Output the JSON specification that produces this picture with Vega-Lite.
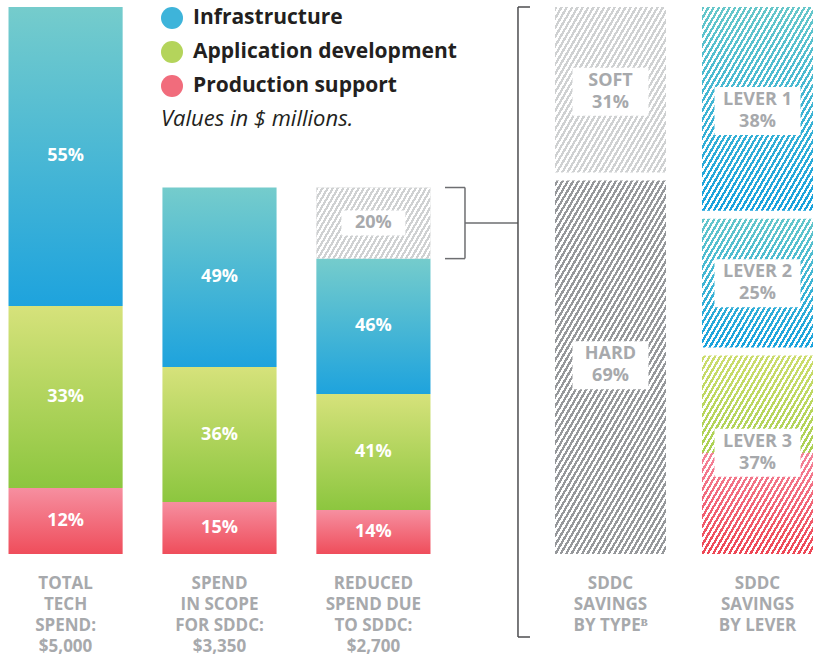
{
"$schema":"https://vega.github.io/schema/vega-lite/v6.json",
"background":"#ffffff",
"padding":{"left":0,"top":6,"right":0,"bottom":0},
"bounds":"flush",
"spacing":116,
"datasets":{
"left":[
{"col":"TOTAL|TECH|SPEND:|$5,000","series":"Production support","ord":1,"value":603,"label":"12%"},
{"col":"TOTAL|TECH|SPEND:|$5,000","series":"Application development","ord":2,"value":1664,"label":"33%"},
{"col":"TOTAL|TECH|SPEND:|$5,000","series":"Infrastructure","ord":3,"value":2733,"label":"55%"},
{"col":"SPEND|IN SCOPE|FOR SDDC:|$3,350","series":"Production support","ord":1,"value":475,"label":"15%"},
{"col":"SPEND|IN SCOPE|FOR SDDC:|$3,350","series":"Application development","ord":2,"value":1234,"label":"36%"},
{"col":"SPEND|IN SCOPE|FOR SDDC:|$3,350","series":"Infrastructure","ord":3,"value":1641,"label":"49%"},
{"col":"REDUCED|SPEND DUE|TO SDDC:|$2,700","series":"Production support","ord":1,"value":402,"label":"14%"},
{"col":"REDUCED|SPEND DUE|TO SDDC:|$2,700","series":"Application development","ord":2,"value":1060,"label":"41%"},
{"col":"REDUCED|SPEND DUE|TO SDDC:|$2,700","series":"Infrastructure","ord":3,"value":1238,"label":"46%"},
{"col":"REDUCED|SPEND DUE|TO SDDC:|$2,700","series":"Savings","ord":4,"value":650,"label":"20%"}
],
"right":[
{"col":"SDDC|SAVINGS|BY TYPEᴮ","seg":"HARD","ord":1,"value":69,"label":"HARD|69%"},
{"col":"SDDC|SAVINGS|BY TYPEᴮ","seg":"SOFT","ord":2,"value":31,"label":"SOFT|31%"},
{"col":"SDDC|SAVINGS|BY LEVER","seg":"LEVER 3","ord":1,"value":37,"production":18.5,"label":"LEVER 3|37%"},
{"col":"SDDC|SAVINGS|BY LEVER","seg":"LEVER 2","ord":2,"value":25,"label":"LEVER 2|25%"},
{"col":"SDDC|SAVINGS|BY LEVER","seg":"LEVER 1","ord":3,"value":38,"label":"LEVER 1|38%"}
]
},
"config":{
"view":{"stroke":null},
"font":"Open Sans",
"axis":{"domain":false,"ticks":false,"grid":false,"labelFont":"Open Sans","labelFontWeight":"bold","labelFontSize":17,"labelColor":"#A7A9AC","labelLineHeight":21,"labelPadding":21,"labelAngle":0,"labelLimit":300}
},
"resolve":{"scale":{"x":"independent","y":"independent"}},
"hconcat":[
{
"width":439,"height":547,
"data":{"name":"left"},
"encoding":{"x":{"field":"col","type":"nominal","sort":null,"title":null,"scale":{"paddingInner":0.2585,"paddingOuter":0.0553},"axis":{"labelExpr":"split(datum.label, '|')"}}},
"layer":[
{"transform":[{"stack":"value","groupby":["col"],"sort":[{"field":"ord"}],"as":["lo","hi"]},{"filter":"datum.series == 'Infrastructure'"}],
"mark":{"type":"bar","stroke":null,"fill":{"gradient":"linear","x1":0,"y1":0,"x2":0,"y2":1,"stops":[{"offset":0,"color":"#75CCCC"},{"offset":1,"color":"#1EA3DD"}]}},
"encoding":{"y":{"field":"hi","type":"quantitative","scale":{"domain":[0,5000],"nice":false},"axis":null},"y2":{"field":"lo"}}},
{"transform":[{"stack":"value","groupby":["col"],"sort":[{"field":"ord"}],"as":["lo","hi"]},{"filter":"datum.series == 'Application development'"}],
"mark":{"type":"bar","stroke":null,"fill":{"gradient":"linear","x1":0,"y1":0,"x2":0,"y2":1,"stops":[{"offset":0,"color":"#D6E27B"},{"offset":1,"color":"#8CC63F"}]}},
"encoding":{"y":{"field":"hi","type":"quantitative","scale":{"domain":[0,5000],"nice":false},"axis":null},"y2":{"field":"lo"}}},
{"transform":[{"stack":"value","groupby":["col"],"sort":[{"field":"ord"}],"as":["lo","hi"]},{"filter":"datum.series == 'Production support'"}],
"mark":{"type":"bar","stroke":null,"fill":{"gradient":"linear","x1":0,"y1":0,"x2":0,"y2":1,"stops":[{"offset":0,"color":"#F68FA0"},{"offset":1,"color":"#EF4D5B"}]}},
"encoding":{"y":{"field":"hi","type":"quantitative","scale":{"domain":[0,5000],"nice":false},"axis":null},"y2":{"field":"lo"}}},
{"transform":[{"stack":"value","groupby":["col"],"sort":[{"field":"ord"}],"as":["lo","hi"]},{"filter":"datum.series == 'Savings'"}],
"mark":{"type":"bar","stroke":null,"fill":"#CFD1D2"},
"encoding":{"y":{"field":"hi","type":"quantitative","scale":{"domain":[0,5000],"nice":false},"axis":null},"y2":{"field":"lo"}}},
{"transform":[{"stack":"value","groupby":["col"],"sort":[{"field":"ord"}],"as":["lo","hi"]},{"filter":"datum.series == 'Savings'"}],
"mark":{"type":"bar","stroke":null,"fill":{"gradient":"linear","x1":0,"y1":0,"x2":1.2041,"y2":0.4336,"stops":[
{"offset":0,"color":"transparent"},
{"offset":0.016667,"color":"transparent"},{"offset":0.016667,"color":"#fff"},
{"offset":0.033333,"color":"#fff"},{"offset":0.033333,"color":"transparent"},
{"offset":0.05,"color":"transparent"},{"offset":0.05,"color":"#fff"},
{"offset":0.066667,"color":"#fff"},{"offset":0.066667,"color":"transparent"},
{"offset":0.083333,"color":"transparent"},{"offset":0.083333,"color":"#fff"},
{"offset":0.1,"color":"#fff"},{"offset":0.1,"color":"transparent"},
{"offset":0.116667,"color":"transparent"},{"offset":0.116667,"color":"#fff"},
{"offset":0.133333,"color":"#fff"},{"offset":0.133333,"color":"transparent"},
{"offset":0.15,"color":"transparent"},{"offset":0.15,"color":"#fff"},
{"offset":0.166667,"color":"#fff"},{"offset":0.166667,"color":"transparent"},
{"offset":0.183333,"color":"transparent"},{"offset":0.183333,"color":"#fff"},
{"offset":0.2,"color":"#fff"},{"offset":0.2,"color":"transparent"},
{"offset":0.216667,"color":"transparent"},{"offset":0.216667,"color":"#fff"},
{"offset":0.233333,"color":"#fff"},{"offset":0.233333,"color":"transparent"},
{"offset":0.25,"color":"transparent"},{"offset":0.25,"color":"#fff"},
{"offset":0.266667,"color":"#fff"},{"offset":0.266667,"color":"transparent"},
{"offset":0.283333,"color":"transparent"},{"offset":0.283333,"color":"#fff"},
{"offset":0.3,"color":"#fff"},{"offset":0.3,"color":"transparent"},
{"offset":0.316667,"color":"transparent"},{"offset":0.316667,"color":"#fff"},
{"offset":0.333333,"color":"#fff"},{"offset":0.333333,"color":"transparent"},
{"offset":0.35,"color":"transparent"},{"offset":0.35,"color":"#fff"},
{"offset":0.366667,"color":"#fff"},{"offset":0.366667,"color":"transparent"},
{"offset":0.383333,"color":"transparent"},{"offset":0.383333,"color":"#fff"},
{"offset":0.4,"color":"#fff"},{"offset":0.4,"color":"transparent"},
{"offset":0.416667,"color":"transparent"},{"offset":0.416667,"color":"#fff"},
{"offset":0.433333,"color":"#fff"},{"offset":0.433333,"color":"transparent"},
{"offset":0.45,"color":"transparent"},{"offset":0.45,"color":"#fff"},
{"offset":0.466667,"color":"#fff"},{"offset":0.466667,"color":"transparent"},
{"offset":0.483333,"color":"transparent"},{"offset":0.483333,"color":"#fff"},
{"offset":0.5,"color":"#fff"},{"offset":0.5,"color":"transparent"},
{"offset":0.516667,"color":"transparent"},{"offset":0.516667,"color":"#fff"},
{"offset":0.533333,"color":"#fff"},{"offset":0.533333,"color":"transparent"},
{"offset":0.55,"color":"transparent"},{"offset":0.55,"color":"#fff"},
{"offset":0.566667,"color":"#fff"},{"offset":0.566667,"color":"transparent"},
{"offset":0.583333,"color":"transparent"},{"offset":0.583333,"color":"#fff"},
{"offset":0.6,"color":"#fff"},{"offset":0.6,"color":"transparent"},
{"offset":0.616667,"color":"transparent"},{"offset":0.616667,"color":"#fff"},
{"offset":0.633333,"color":"#fff"},{"offset":0.633333,"color":"transparent"},
{"offset":0.65,"color":"transparent"},{"offset":0.65,"color":"#fff"},
{"offset":0.666667,"color":"#fff"},{"offset":0.666667,"color":"transparent"},
{"offset":0.683333,"color":"transparent"},{"offset":0.683333,"color":"#fff"},
{"offset":0.7,"color":"#fff"},{"offset":0.7,"color":"transparent"},
{"offset":0.716667,"color":"transparent"},{"offset":0.716667,"color":"#fff"},
{"offset":0.733333,"color":"#fff"},{"offset":0.733333,"color":"transparent"},
{"offset":0.75,"color":"transparent"},{"offset":0.75,"color":"#fff"},
{"offset":0.766667,"color":"#fff"},{"offset":0.766667,"color":"transparent"},
{"offset":0.783333,"color":"transparent"},{"offset":0.783333,"color":"#fff"},
{"offset":0.8,"color":"#fff"},{"offset":0.8,"color":"transparent"},
{"offset":0.816667,"color":"transparent"},{"offset":0.816667,"color":"#fff"},
{"offset":0.833333,"color":"#fff"},{"offset":0.833333,"color":"transparent"},
{"offset":0.85,"color":"transparent"},{"offset":0.85,"color":"#fff"},
{"offset":0.866667,"color":"#fff"},{"offset":0.866667,"color":"transparent"},
{"offset":0.883333,"color":"transparent"},{"offset":0.883333,"color":"#fff"},
{"offset":0.9,"color":"#fff"},{"offset":0.9,"color":"transparent"},
{"offset":0.916667,"color":"transparent"},{"offset":0.916667,"color":"#fff"},
{"offset":0.933333,"color":"#fff"},{"offset":0.933333,"color":"transparent"},
{"offset":0.95,"color":"transparent"},{"offset":0.95,"color":"#fff"},
{"offset":0.966667,"color":"#fff"},{"offset":0.966667,"color":"transparent"},
{"offset":0.983333,"color":"transparent"},{"offset":0.983333,"color":"#fff"},
{"offset":1,"color":"#fff"}
]}},
"encoding":{"y":{"field":"hi","type":"quantitative","scale":{"domain":[0,5000],"nice":false},"axis":null},"y2":{"field":"lo"}}},
{"mark":{"type":"point","filled":true,"fill":"#ffffff","strokeWidth":0,"shape":"M-1,-0.39V0.39H1V-0.39Z","size":4096},
"encoding":{"y":{"field":"value","type":"quantitative","stack":"zero","bandPosition":0.5,"scale":{"domain":[0,5000],"nice":false},"axis":null},"order":{"field":"ord","type":"quantitative"},"detail":{"field":"series"},"opacity":{"condition":{"test":"datum.series == 'Savings'","value":1},"value":0}}},
{"mark":{"type":"text","font":"Open Sans","fontWeight":"bold","fontSize":18,"baseline":"middle","align":"center"},
"encoding":{"y":{"field":"value","type":"quantitative","stack":"zero","bandPosition":0.5,"scale":{"domain":[0,5000],"nice":false},"axis":null},"order":{"field":"ord","type":"quantitative"},"detail":{"field":"series"},"text":{"field":"label"},"color":{"condition":{"test":"datum.series == 'Savings'","value":"#A7A9AC"},"value":"#ffffff"}}},
{"transform":[{"stack":"value","groupby":["col"],"sort":[{"field":"ord"}],"as":["lo","hi"]},{"filter":"datum.series == 'Savings'"}],
"layer":[
{"mark":{"type":"rule","stroke":"#6D6E71","strokeWidth":1.5,"xOffset":34.5},
"encoding":{"x":{"field":"col","type":"nominal","sort":null,"bandPosition":1,"title":null,"axis":{"labelExpr":"split(datum.label, '|')"}},"y":{"field":"hi","type":"quantitative","scale":{"domain":[0,5000],"nice":false},"axis":null},"y2":{"field":"lo"}}},
{"mark":{"type":"rule","stroke":"#6D6E71","strokeWidth":1.5,"xOffset":14.5,"x2Offset":34.5},
"encoding":{"x":{"field":"col","type":"nominal","sort":null,"bandPosition":1,"title":null,"axis":{"labelExpr":"split(datum.label, '|')"}},"x2":{"field":"col","bandPosition":1},"y":{"field":"hi","type":"quantitative","scale":{"domain":[0,5000],"nice":false},"axis":null}}},
{"mark":{"type":"rule","stroke":"#6D6E71","strokeWidth":1.5,"xOffset":14.5,"x2Offset":34.5},
"encoding":{"x":{"field":"col","type":"nominal","sort":null,"bandPosition":1,"title":null,"axis":{"labelExpr":"split(datum.label, '|')"}},"x2":{"field":"col","bandPosition":1},"y":{"field":"lo","type":"quantitative","scale":{"domain":[0,5000],"nice":false},"axis":null}}},
{"mark":{"type":"rule","stroke":"#6D6E71","strokeWidth":1.5,"xOffset":34.5,"x2Offset":87.5,"yOffset":35.5},
"encoding":{"x":{"field":"col","type":"nominal","sort":null,"bandPosition":1,"title":null,"axis":{"labelExpr":"split(datum.label, '|')"}},"x2":{"field":"col","bandPosition":1},"y":{"field":"hi","type":"quantitative","scale":{"domain":[0,5000],"nice":false},"axis":null}}},
{"mark":{"type":"rule","stroke":"#4D4D4F","strokeWidth":1.5,"xOffset":87.5,"y2Offset":83},
"encoding":{"x":{"field":"col","type":"nominal","sort":null,"bandPosition":1,"title":null,"axis":{"labelExpr":"split(datum.label, '|')"}},"y":{"datum":5000,"type":"quantitative","scale":{"domain":[0,5000],"nice":false},"axis":null},"y2":{"datum":0}}},
{"mark":{"type":"rule","stroke":"#4D4D4F","strokeWidth":1.5,"xOffset":87.5,"x2Offset":99.5},
"encoding":{"x":{"field":"col","type":"nominal","sort":null,"bandPosition":1,"title":null,"axis":{"labelExpr":"split(datum.label, '|')"}},"x2":{"field":"col","bandPosition":1},"y":{"datum":5000,"type":"quantitative","scale":{"domain":[0,5000],"nice":false},"axis":null}}},
{"mark":{"type":"rule","stroke":"#4D4D4F","strokeWidth":1.5,"xOffset":87.5,"x2Offset":99.5,"yOffset":83},
"encoding":{"x":{"field":"col","type":"nominal","sort":null,"bandPosition":1,"title":null,"axis":{"labelExpr":"split(datum.label, '|')"}},"x2":{"field":"col","bandPosition":1},"y":{"datum":0,"type":"quantitative","scale":{"domain":[0,5000],"nice":false},"axis":null}}}
]},
{"transform":[{"filter":"datum.series != 'Savings'"}],
"mark":{"type":"point","filled":true,"opacity":0},
"encoding":{"y":{"field":"value","type":"quantitative","scale":{"domain":[0,5000],"nice":false},"axis":null},
"color":{"field":"series","type":"nominal","scale":{"domain":["Infrastructure","Application development","Production support"],"range":["#3EB4DA","#B4D45B","#F16C7C"]},
"legend":{"orient":"none","legendX":161,"legendY":0,"title":"Values in $ millions.","titleOrient":"bottom","titleAnchor":"start","titleFont":"Open Sans","titleFontSize":22,"titleFontStyle":"italic","titleFontWeight":"normal","titleColor":"#231F20","titlePadding":12,"titleLimit":500,"labelFont":"Open Sans","labelFontSize":21,"labelFontWeight":"bold","labelColor":"#231F20","labelOffset":10,"labelLimit":500,"symbolType":"circle","symbolSize":484,"symbolOpacity":1,"symbolStrokeWidth":0,"rowPadding":12,
"encode":{"symbols":{"update":{"fill":[
{"test":"datum.value === 'Infrastructure'","value":{"gradient":"linear","x1":0,"y1":0,"x2":0,"y2":1,"stops":[{"offset":0,"color":"#75CCCC"},{"offset":1,"color":"#1EA3DD"}]}},
{"test":"datum.value === 'Application development'","value":{"gradient":"linear","x1":0,"y1":0,"x2":0,"y2":1,"stops":[{"offset":0,"color":"#D6E27B"},{"offset":1,"color":"#8CC63F"}]}},
{"value":{"gradient":"linear","x1":0,"y1":0,"x2":0,"y2":1,"stops":[{"offset":0,"color":"#F68FA0"},{"offset":1,"color":"#EF4D5B"}]}}
]}}}}}}}
]
},
{
"width":258,"height":547,
"data":{"name":"right"},
"encoding":{"x":{"field":"col","type":"nominal","sort":null,"title":null,"scale":{"paddingInner":0.2449,"paddingOuter":0},"axis":{"labelExpr":"split(datum.label, '|')"}}},
"layer":[
{"transform":[{"stack":"value","groupby":["col"],"sort":[{"field":"ord"}],"as":["lo","hi"]},{"filter":"datum.seg == 'SOFT'"}],
"mark":{"type":"bar","stroke":null,"fill":"#CFD1D2"},
"encoding":{"y":{"field":"hi","type":"quantitative","scale":{"domain":[0,100],"nice":false},"axis":null},"y2":{"field":"lo"}}},
{"transform":[{"stack":"value","groupby":["col"],"sort":[{"field":"ord"}],"as":["lo","hi"]},{"filter":"datum.seg == 'HARD'"}],
"mark":{"type":"bar","stroke":null,"fill":"#96989B"},
"encoding":{"y":{"field":"hi","type":"quantitative","scale":{"domain":[0,100],"nice":false},"axis":null},"y2":{"field":"lo"}}},
{"transform":[{"stack":"value","groupby":["col"],"sort":[{"field":"ord"}],"as":["lo","hi"]},{"filter":"datum.seg == 'LEVER 1' || datum.seg == 'LEVER 2'"}],
"mark":{"type":"bar","stroke":null,"fill":{"gradient":"linear","x1":0,"y1":0,"x2":0,"y2":1,"stops":[{"offset":0,"color":"#66C7CA"},{"offset":1,"color":"#16A1DD"}]}},
"encoding":{"y":{"field":"hi","type":"quantitative","scale":{"domain":[0,100],"nice":false},"axis":null},"y2":{"field":"lo"}}},
{"transform":[{"stack":"value","groupby":["col"],"sort":[{"field":"ord"}],"as":["lo","hi"]},{"filter":"datum.seg == 'LEVER 3'"}],
"mark":{"type":"bar","stroke":null,"fill":{"gradient":"linear","x1":0,"y1":0,"x2":0,"y2":1,"stops":[{"offset":0,"color":"#CDDD6E"},{"offset":1,"color":"#86C336"}]}},
"encoding":{"y":{"field":"hi","type":"quantitative","scale":{"domain":[0,100],"nice":false},"axis":null},"y2":{"field":"lo"}}},
{"transform":[{"filter":"datum.seg == 'LEVER 3'"}],
"mark":{"type":"bar","stroke":null,"fill":{"gradient":"linear","x1":0,"y1":0,"x2":0,"y2":1,"stops":[{"offset":0,"color":"#F4859A"},{"offset":1,"color":"#EE4654"}]}},
"encoding":{"y":{"field":"production","type":"quantitative","scale":{"domain":[0,100],"nice":false},"axis":null}}},
{"mark":{"type":"bar","stroke":null,"fill":{"gradient":"linear","x1":0,"y1":0,"x2":0.4228,"y2":1.2029,"stops":[
{"offset":0,"color":"transparent"},
{"offset":0.00625,"color":"transparent"},{"offset":0.00625,"color":"#fff"},
{"offset":0.0125,"color":"#fff"},{"offset":0.0125,"color":"transparent"},
{"offset":0.01875,"color":"transparent"},{"offset":0.01875,"color":"#fff"},
{"offset":0.025,"color":"#fff"},{"offset":0.025,"color":"transparent"},
{"offset":0.03125,"color":"transparent"},{"offset":0.03125,"color":"#fff"},
{"offset":0.0375,"color":"#fff"},{"offset":0.0375,"color":"transparent"},
{"offset":0.04375,"color":"transparent"},{"offset":0.04375,"color":"#fff"},
{"offset":0.05,"color":"#fff"},{"offset":0.05,"color":"transparent"},
{"offset":0.05625,"color":"transparent"},{"offset":0.05625,"color":"#fff"},
{"offset":0.0625,"color":"#fff"},{"offset":0.0625,"color":"transparent"},
{"offset":0.06875,"color":"transparent"},{"offset":0.06875,"color":"#fff"},
{"offset":0.075,"color":"#fff"},{"offset":0.075,"color":"transparent"},
{"offset":0.08125,"color":"transparent"},{"offset":0.08125,"color":"#fff"},
{"offset":0.0875,"color":"#fff"},{"offset":0.0875,"color":"transparent"},
{"offset":0.09375,"color":"transparent"},{"offset":0.09375,"color":"#fff"},
{"offset":0.1,"color":"#fff"},{"offset":0.1,"color":"transparent"},
{"offset":0.10625,"color":"transparent"},{"offset":0.10625,"color":"#fff"},
{"offset":0.1125,"color":"#fff"},{"offset":0.1125,"color":"transparent"},
{"offset":0.11875,"color":"transparent"},{"offset":0.11875,"color":"#fff"},
{"offset":0.125,"color":"#fff"},{"offset":0.125,"color":"transparent"},
{"offset":0.13125,"color":"transparent"},{"offset":0.13125,"color":"#fff"},
{"offset":0.1375,"color":"#fff"},{"offset":0.1375,"color":"transparent"},
{"offset":0.14375,"color":"transparent"},{"offset":0.14375,"color":"#fff"},
{"offset":0.15,"color":"#fff"},{"offset":0.15,"color":"transparent"},
{"offset":0.15625,"color":"transparent"},{"offset":0.15625,"color":"#fff"},
{"offset":0.1625,"color":"#fff"},{"offset":0.1625,"color":"transparent"},
{"offset":0.16875,"color":"transparent"},{"offset":0.16875,"color":"#fff"},
{"offset":0.175,"color":"#fff"},{"offset":0.175,"color":"transparent"},
{"offset":0.18125,"color":"transparent"},{"offset":0.18125,"color":"#fff"},
{"offset":0.1875,"color":"#fff"},{"offset":0.1875,"color":"transparent"},
{"offset":0.19375,"color":"transparent"},{"offset":0.19375,"color":"#fff"},
{"offset":0.2,"color":"#fff"},{"offset":0.2,"color":"transparent"},
{"offset":0.20625,"color":"transparent"},{"offset":0.20625,"color":"#fff"},
{"offset":0.2125,"color":"#fff"},{"offset":0.2125,"color":"transparent"},
{"offset":0.21875,"color":"transparent"},{"offset":0.21875,"color":"#fff"},
{"offset":0.225,"color":"#fff"},{"offset":0.225,"color":"transparent"},
{"offset":0.23125,"color":"transparent"},{"offset":0.23125,"color":"#fff"},
{"offset":0.2375,"color":"#fff"},{"offset":0.2375,"color":"transparent"},
{"offset":0.24375,"color":"transparent"},{"offset":0.24375,"color":"#fff"},
{"offset":0.25,"color":"#fff"},{"offset":0.25,"color":"transparent"},
{"offset":0.25625,"color":"transparent"},{"offset":0.25625,"color":"#fff"},
{"offset":0.2625,"color":"#fff"},{"offset":0.2625,"color":"transparent"},
{"offset":0.26875,"color":"transparent"},{"offset":0.26875,"color":"#fff"},
{"offset":0.275,"color":"#fff"},{"offset":0.275,"color":"transparent"},
{"offset":0.28125,"color":"transparent"},{"offset":0.28125,"color":"#fff"},
{"offset":0.2875,"color":"#fff"},{"offset":0.2875,"color":"transparent"},
{"offset":0.29375,"color":"transparent"},{"offset":0.29375,"color":"#fff"},
{"offset":0.3,"color":"#fff"},{"offset":0.3,"color":"transparent"},
{"offset":0.30625,"color":"transparent"},{"offset":0.30625,"color":"#fff"},
{"offset":0.3125,"color":"#fff"},{"offset":0.3125,"color":"transparent"},
{"offset":0.31875,"color":"transparent"},{"offset":0.31875,"color":"#fff"},
{"offset":0.325,"color":"#fff"},{"offset":0.325,"color":"transparent"},
{"offset":0.33125,"color":"transparent"},{"offset":0.33125,"color":"#fff"},
{"offset":0.3375,"color":"#fff"},{"offset":0.3375,"color":"transparent"},
{"offset":0.34375,"color":"transparent"},{"offset":0.34375,"color":"#fff"},
{"offset":0.35,"color":"#fff"},{"offset":0.35,"color":"transparent"},
{"offset":0.35625,"color":"transparent"},{"offset":0.35625,"color":"#fff"},
{"offset":0.3625,"color":"#fff"},{"offset":0.3625,"color":"transparent"},
{"offset":0.36875,"color":"transparent"},{"offset":0.36875,"color":"#fff"},
{"offset":0.375,"color":"#fff"},{"offset":0.375,"color":"transparent"},
{"offset":0.38125,"color":"transparent"},{"offset":0.38125,"color":"#fff"},
{"offset":0.3875,"color":"#fff"},{"offset":0.3875,"color":"transparent"},
{"offset":0.39375,"color":"transparent"},{"offset":0.39375,"color":"#fff"},
{"offset":0.4,"color":"#fff"},{"offset":0.4,"color":"transparent"},
{"offset":0.40625,"color":"transparent"},{"offset":0.40625,"color":"#fff"},
{"offset":0.4125,"color":"#fff"},{"offset":0.4125,"color":"transparent"},
{"offset":0.41875,"color":"transparent"},{"offset":0.41875,"color":"#fff"},
{"offset":0.425,"color":"#fff"},{"offset":0.425,"color":"transparent"},
{"offset":0.43125,"color":"transparent"},{"offset":0.43125,"color":"#fff"},
{"offset":0.4375,"color":"#fff"},{"offset":0.4375,"color":"transparent"},
{"offset":0.44375,"color":"transparent"},{"offset":0.44375,"color":"#fff"},
{"offset":0.45,"color":"#fff"},{"offset":0.45,"color":"transparent"},
{"offset":0.45625,"color":"transparent"},{"offset":0.45625,"color":"#fff"},
{"offset":0.4625,"color":"#fff"},{"offset":0.4625,"color":"transparent"},
{"offset":0.46875,"color":"transparent"},{"offset":0.46875,"color":"#fff"},
{"offset":0.475,"color":"#fff"},{"offset":0.475,"color":"transparent"},
{"offset":0.48125,"color":"transparent"},{"offset":0.48125,"color":"#fff"},
{"offset":0.4875,"color":"#fff"},{"offset":0.4875,"color":"transparent"},
{"offset":0.49375,"color":"transparent"},{"offset":0.49375,"color":"#fff"},
{"offset":0.5,"color":"#fff"},{"offset":0.5,"color":"transparent"},
{"offset":0.50625,"color":"transparent"},{"offset":0.50625,"color":"#fff"},
{"offset":0.5125,"color":"#fff"},{"offset":0.5125,"color":"transparent"},
{"offset":0.51875,"color":"transparent"},{"offset":0.51875,"color":"#fff"},
{"offset":0.525,"color":"#fff"},{"offset":0.525,"color":"transparent"},
{"offset":0.53125,"color":"transparent"},{"offset":0.53125,"color":"#fff"},
{"offset":0.5375,"color":"#fff"},{"offset":0.5375,"color":"transparent"},
{"offset":0.54375,"color":"transparent"},{"offset":0.54375,"color":"#fff"},
{"offset":0.55,"color":"#fff"},{"offset":0.55,"color":"transparent"},
{"offset":0.55625,"color":"transparent"},{"offset":0.55625,"color":"#fff"},
{"offset":0.5625,"color":"#fff"},{"offset":0.5625,"color":"transparent"},
{"offset":0.56875,"color":"transparent"},{"offset":0.56875,"color":"#fff"},
{"offset":0.575,"color":"#fff"},{"offset":0.575,"color":"transparent"},
{"offset":0.58125,"color":"transparent"},{"offset":0.58125,"color":"#fff"},
{"offset":0.5875,"color":"#fff"},{"offset":0.5875,"color":"transparent"},
{"offset":0.59375,"color":"transparent"},{"offset":0.59375,"color":"#fff"},
{"offset":0.6,"color":"#fff"},{"offset":0.6,"color":"transparent"},
{"offset":0.60625,"color":"transparent"},{"offset":0.60625,"color":"#fff"},
{"offset":0.6125,"color":"#fff"},{"offset":0.6125,"color":"transparent"},
{"offset":0.61875,"color":"transparent"},{"offset":0.61875,"color":"#fff"},
{"offset":0.625,"color":"#fff"},{"offset":0.625,"color":"transparent"},
{"offset":0.63125,"color":"transparent"},{"offset":0.63125,"color":"#fff"},
{"offset":0.6375,"color":"#fff"},{"offset":0.6375,"color":"transparent"},
{"offset":0.64375,"color":"transparent"},{"offset":0.64375,"color":"#fff"},
{"offset":0.65,"color":"#fff"},{"offset":0.65,"color":"transparent"},
{"offset":0.65625,"color":"transparent"},{"offset":0.65625,"color":"#fff"},
{"offset":0.6625,"color":"#fff"},{"offset":0.6625,"color":"transparent"},
{"offset":0.66875,"color":"transparent"},{"offset":0.66875,"color":"#fff"},
{"offset":0.675,"color":"#fff"},{"offset":0.675,"color":"transparent"},
{"offset":0.68125,"color":"transparent"},{"offset":0.68125,"color":"#fff"},
{"offset":0.6875,"color":"#fff"},{"offset":0.6875,"color":"transparent"},
{"offset":0.69375,"color":"transparent"},{"offset":0.69375,"color":"#fff"},
{"offset":0.7,"color":"#fff"},{"offset":0.7,"color":"transparent"},
{"offset":0.70625,"color":"transparent"},{"offset":0.70625,"color":"#fff"},
{"offset":0.7125,"color":"#fff"},{"offset":0.7125,"color":"transparent"},
{"offset":0.71875,"color":"transparent"},{"offset":0.71875,"color":"#fff"},
{"offset":0.725,"color":"#fff"},{"offset":0.725,"color":"transparent"},
{"offset":0.73125,"color":"transparent"},{"offset":0.73125,"color":"#fff"},
{"offset":0.7375,"color":"#fff"},{"offset":0.7375,"color":"transparent"},
{"offset":0.74375,"color":"transparent"},{"offset":0.74375,"color":"#fff"},
{"offset":0.75,"color":"#fff"},{"offset":0.75,"color":"transparent"},
{"offset":0.75625,"color":"transparent"},{"offset":0.75625,"color":"#fff"},
{"offset":0.7625,"color":"#fff"},{"offset":0.7625,"color":"transparent"},
{"offset":0.76875,"color":"transparent"},{"offset":0.76875,"color":"#fff"},
{"offset":0.775,"color":"#fff"},{"offset":0.775,"color":"transparent"},
{"offset":0.78125,"color":"transparent"},{"offset":0.78125,"color":"#fff"},
{"offset":0.7875,"color":"#fff"},{"offset":0.7875,"color":"transparent"},
{"offset":0.79375,"color":"transparent"},{"offset":0.79375,"color":"#fff"},
{"offset":0.8,"color":"#fff"},{"offset":0.8,"color":"transparent"},
{"offset":0.80625,"color":"transparent"},{"offset":0.80625,"color":"#fff"},
{"offset":0.8125,"color":"#fff"},{"offset":0.8125,"color":"transparent"},
{"offset":0.81875,"color":"transparent"},{"offset":0.81875,"color":"#fff"},
{"offset":0.825,"color":"#fff"},{"offset":0.825,"color":"transparent"},
{"offset":0.83125,"color":"transparent"},{"offset":0.83125,"color":"#fff"},
{"offset":0.8375,"color":"#fff"},{"offset":0.8375,"color":"transparent"},
{"offset":0.84375,"color":"transparent"},{"offset":0.84375,"color":"#fff"},
{"offset":0.85,"color":"#fff"},{"offset":0.85,"color":"transparent"},
{"offset":0.85625,"color":"transparent"},{"offset":0.85625,"color":"#fff"},
{"offset":0.8625,"color":"#fff"},{"offset":0.8625,"color":"transparent"},
{"offset":0.86875,"color":"transparent"},{"offset":0.86875,"color":"#fff"},
{"offset":0.875,"color":"#fff"},{"offset":0.875,"color":"transparent"},
{"offset":0.88125,"color":"transparent"},{"offset":0.88125,"color":"#fff"},
{"offset":0.8875,"color":"#fff"},{"offset":0.8875,"color":"transparent"},
{"offset":0.89375,"color":"transparent"},{"offset":0.89375,"color":"#fff"},
{"offset":0.9,"color":"#fff"},{"offset":0.9,"color":"transparent"},
{"offset":0.90625,"color":"transparent"},{"offset":0.90625,"color":"#fff"},
{"offset":0.9125,"color":"#fff"},{"offset":0.9125,"color":"transparent"},
{"offset":0.91875,"color":"transparent"},{"offset":0.91875,"color":"#fff"},
{"offset":0.925,"color":"#fff"},{"offset":0.925,"color":"transparent"},
{"offset":0.93125,"color":"transparent"},{"offset":0.93125,"color":"#fff"},
{"offset":0.9375,"color":"#fff"},{"offset":0.9375,"color":"transparent"},
{"offset":0.94375,"color":"transparent"},{"offset":0.94375,"color":"#fff"},
{"offset":0.95,"color":"#fff"},{"offset":0.95,"color":"transparent"},
{"offset":0.95625,"color":"transparent"},{"offset":0.95625,"color":"#fff"},
{"offset":0.9625,"color":"#fff"},{"offset":0.9625,"color":"transparent"},
{"offset":0.96875,"color":"transparent"},{"offset":0.96875,"color":"#fff"},
{"offset":0.975,"color":"#fff"},{"offset":0.975,"color":"transparent"},
{"offset":0.98125,"color":"transparent"},{"offset":0.98125,"color":"#fff"},
{"offset":0.9875,"color":"#fff"},{"offset":0.9875,"color":"transparent"},
{"offset":0.99375,"color":"transparent"},{"offset":0.99375,"color":"#fff"},
{"offset":1,"color":"#fff"}
]}},
"encoding":{"y":{"aggregate":"sum","field":"value","type":"quantitative","scale":{"domain":[0,100],"nice":false},"axis":null}}},
{"transform":[{"stack":"value","groupby":["col"],"sort":[{"field":"ord"}],"as":["lo","hi"]},{"filter":"datum.lo > 0"}],
"mark":{"type":"bar","stroke":null,"fill":"#ffffff","yOffset":-4,"y2Offset":4},
"encoding":{"y":{"field":"lo","type":"quantitative","scale":{"domain":[0,100],"nice":false},"axis":null},"y2":{"field":"lo"}}},
{"mark":{"type":"point","filled":true,"fill":"#ffffff","strokeWidth":0,"opacity":1},
"encoding":{"y":{"field":"value","type":"quantitative","stack":"zero","bandPosition":0.5,"scale":{"domain":[0,100],"nice":false},"axis":null},"order":{"field":"ord","type":"quantitative"},"detail":{"field":"seg"},
"shape":{"condition":{"test":"datum.seg == 'SOFT' || datum.seg == 'HARD'","value":"M-1,-0.632V0.632H1V-0.632Z"},"value":"M-1,-0.558V0.558H1V-0.558Z"},
"size":{"condition":{"test":"datum.seg == 'SOFT' || datum.seg == 'HARD'","value":5776},"value":7396}}},
{"mark":{"type":"text","font":"Open Sans","fontWeight":"bold","fontSize":18,"baseline":"middle","align":"center","lineBreak":"|","lineHeight":22,"dy":-11,"color":"#A7A9AC"},
"encoding":{"y":{"field":"value","type":"quantitative","stack":"zero","bandPosition":0.5,"scale":{"domain":[0,100],"nice":false},"axis":null},"order":{"field":"ord","type":"quantitative"},"detail":{"field":"seg"},"text":{"field":"label"}}}
]
}
]
}
